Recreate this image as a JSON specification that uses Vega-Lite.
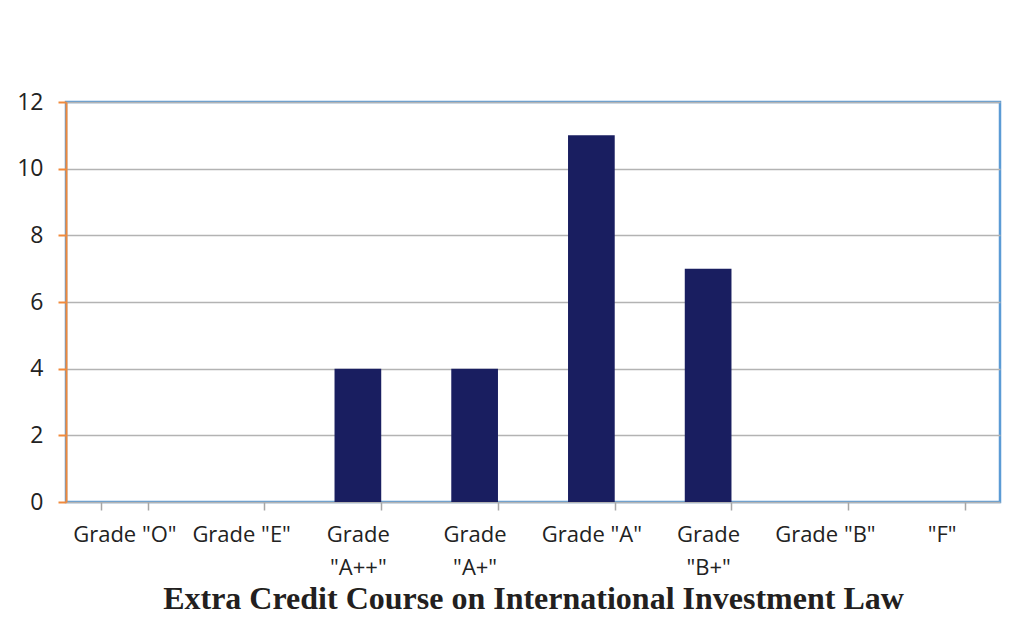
{
  "$schema": "https://vega.github.io/schema/vega-lite/v6.json",
  "autosize": "none",
  "width": 934,
  "height": 400,
  "padding": {"left": 66, "top": 102, "right": 25, "bottom": 126},
  "background": "white",
  "data": {
    "values": [
      {"grade": "Grade \"O\"", "count": 0},
      {"grade": "Grade \"E\"", "count": 0},
      {"grade": "Grade \"A++\"", "count": 4},
      {"grade": "Grade \"A+\"", "count": 4},
      {"grade": "Grade \"A\"", "count": 11},
      {"grade": "Grade \"B+\"", "count": 7},
      {"grade": "Grade \"B\"", "count": 0},
      {"grade": "\"F\"", "count": 0}
    ]
  },
  "mark": {"type": "bar", "color": "#191e60"},
  "encoding": {
    "x": {
      "field": "grade",
      "type": "nominal",
      "sort": null,
      "scale": {"paddingInner": 0.6, "paddingOuter": 0.3},
      "axis": {
        "title": "Extra Credit Course on International Investment Law",
        "titleFont": "Liberation Serif",
        "titleFontSize": 32,
        "titleFontWeight": "bold",
        "titleColor": "#231f20",
        "titlePadding": 5,
        "labelAngle": 0,
        "tickBand": "extent",
        "domain": false,
        "ticks": true,
        "tickColor": "#a6a6a6",
        "tickWidth": 1.5,
        "tickSize": 8,
        "labelPadding": 14,
        "labelFont": "Open Sans",
        "labelFontSize": 22,
        "labelColor": "#222222",
        "labelLineHeight": 33,
        "labelExpr": "indexof(['Grade \"A++\"','Grade \"A+\"','Grade \"B+\"'], datum.value) >= 0 ? split(datum.value, ' ') : datum.value"
      }
    },
    "y": {
      "field": "count",
      "type": "quantitative",
      "scale": {"domain": [0, 12]},
      "axis": {
        "title": null,
        "values": [0, 2, 4, 6, 8, 10, 12],
        "grid": true,
        "gridColor": "#b3b3b3",
        "gridWidth": 1.5,
        "domainColor": "#f08a3c",
        "domainWidth": 2,
        "tickColor": "#f08a3c",
        "tickWidth": 2,
        "tickSize": 8,
        "labelPadding": 15,
        "labelFont": "Open Sans",
        "labelFontSize": 23,
        "labelColor": "#222222"
      }
    }
  },
  "config": {
    "view": {"stroke": "#5b9bd5", "strokeWidth": 2.5}
  }
}
